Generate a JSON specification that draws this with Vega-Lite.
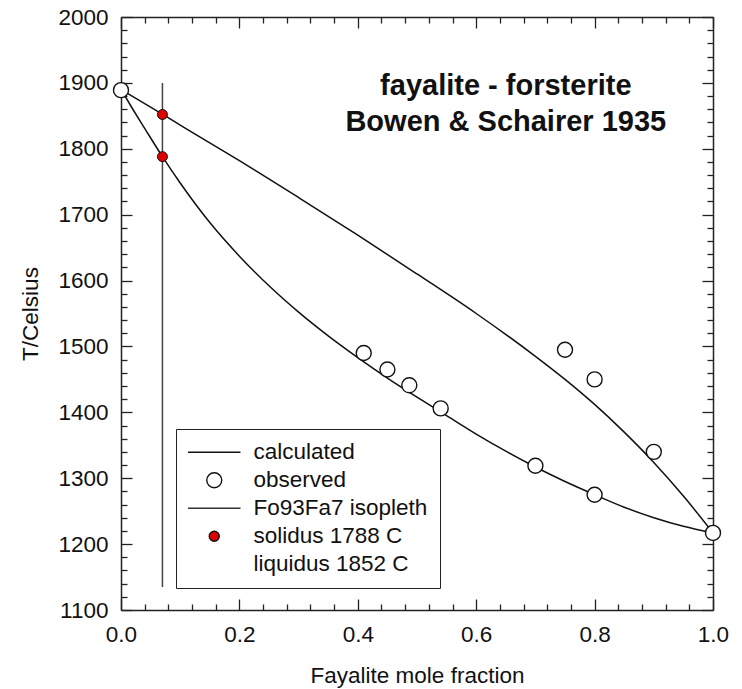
{
  "$schema": "https://vega.github.io/schema/vega-lite/v6.json",
  "width": 592,
  "height": 593,
  "autosize": {"type": "none"},
  "padding": {"left": 121, "top": 17, "right": 29, "bottom": 79},
  "background": "white",
  "config": {
    "view": {"stroke": null},
    "font": "Liberation Sans",
    "axis": {
      "grid": false,
      "domainColor": "#222",
      "domainWidth": 1.5,
      "tickColor": "#222",
      "tickWidth": 1.3,
      "labelFont": "Liberation Sans",
      "labelFontSize": 22.5,
      "labelColor": "#111",
      "titleFont": "Liberation Sans",
      "titleFontSize": 22.5,
      "titleFontWeight": "normal",
      "titleColor": "#111",
      "labelOverlap": false,
      "labelFlush": false,
      "labelBound": false
    }
  },
  "datasets": {
    "curves": [
      {"curve": "liquidus", "x": 0, "T": 1890},
      {"curve": "liquidus", "x": 0.07, "T": 1852.5},
      {"curve": "liquidus", "x": 0.1, "T": 1836},
      {"curve": "liquidus", "x": 0.2, "T": 1782},
      {"curve": "liquidus", "x": 0.3, "T": 1726},
      {"curve": "liquidus", "x": 0.4, "T": 1669},
      {"curve": "liquidus", "x": 0.5, "T": 1610},
      {"curve": "liquidus", "x": 0.6, "T": 1550},
      {"curve": "liquidus", "x": 0.7, "T": 1485},
      {"curve": "liquidus", "x": 0.75, "T": 1450},
      {"curve": "liquidus", "x": 0.8, "T": 1412},
      {"curve": "liquidus", "x": 0.85, "T": 1370},
      {"curve": "liquidus", "x": 0.9, "T": 1324},
      {"curve": "liquidus", "x": 0.95, "T": 1273},
      {"curve": "liquidus", "x": 1.0, "T": 1217},
      {"curve": "solidus", "x": 0, "T": 1890},
      {"curve": "solidus", "x": 0.02, "T": 1860},
      {"curve": "solidus", "x": 0.04, "T": 1831},
      {"curve": "solidus", "x": 0.07, "T": 1788},
      {"curve": "solidus", "x": 0.1, "T": 1748},
      {"curve": "solidus", "x": 0.15, "T": 1688},
      {"curve": "solidus", "x": 0.2, "T": 1637},
      {"curve": "solidus", "x": 0.25, "T": 1592},
      {"curve": "solidus", "x": 0.3, "T": 1552},
      {"curve": "solidus", "x": 0.35, "T": 1516},
      {"curve": "solidus", "x": 0.4, "T": 1483},
      {"curve": "solidus", "x": 0.45, "T": 1452},
      {"curve": "solidus", "x": 0.5, "T": 1423},
      {"curve": "solidus", "x": 0.55, "T": 1395},
      {"curve": "solidus", "x": 0.6, "T": 1367},
      {"curve": "solidus", "x": 0.65, "T": 1341},
      {"curve": "solidus", "x": 0.7, "T": 1317},
      {"curve": "solidus", "x": 0.75, "T": 1295},
      {"curve": "solidus", "x": 0.8, "T": 1275},
      {"curve": "solidus", "x": 0.85, "T": 1256},
      {"curve": "solidus", "x": 0.9, "T": 1240},
      {"curve": "solidus", "x": 0.95, "T": 1227},
      {"curve": "solidus", "x": 1.0, "T": 1217}
    ],
    "observed": [
      {"x": 0, "T": 1889},
      {"x": 0.41, "T": 1490},
      {"x": 0.45, "T": 1465},
      {"x": 0.487, "T": 1441},
      {"x": 0.54, "T": 1406},
      {"x": 0.70, "T": 1319},
      {"x": 0.75, "T": 1495},
      {"x": 0.80, "T": 1450},
      {"x": 0.80, "T": 1275},
      {"x": 0.90, "T": 1340},
      {"x": 1.0, "T": 1217}
    ],
    "isopleth_pts": [
      {"x": 0.07, "T": 1788, "kind": "solidus"},
      {"x": 0.07, "T": 1852, "kind": "liquidus"}
    ],
    "isopleth": [
      {"x": 0.07, "T1": 1135, "T2": 1900}
    ],
    "title": [
      {"t": "fayalite - forsterite\nBowen & Schairer 1935"}
    ],
    "legend": [
      {"label": "calculated"},
      {"label": "observed"},
      {"label": "Fo93Fa7 isopleth"},
      {"label": "solidus 1788 C"},
      {"label": "liquidus 1852 C"}
    ]
  },
  "layer": [
    {
      "data": {"name": "curves"},
      "mark": {"type": "line", "color": "#111", "strokeWidth": 1.5, "interpolate": "monotone"},
      "encoding": {
        "x": {
          "field": "x", "type": "quantitative",
          "scale": {"domain": [0, 1], "nice": false, "zero": false},
          "axis": {
            "orient": "bottom",
            "values": [0, 0.2, 0.4, 0.6, 0.8, 1],
            "format": ".1f",
            "ticks": false,
            "labelPadding": 13,
            "title": "Fayalite mole fraction",
            "titlePadding": 19
          }
        },
        "y": {
          "field": "T", "type": "quantitative",
          "scale": {"domain": [1100, 2000], "nice": false, "zero": false},
          "axis": {
            "orient": "left",
            "values": [1100, 1200, 1300, 1400, 1500, 1600, 1700, 1800, 1900, 2000],
            "format": "d",
            "ticks": false,
            "labelPadding": 13,
            "title": "T/Celsius",
            "titlePadding": 15
          }
        },
        "detail": {"field": "curve"}
      }
    },
    {
      "data": {"name": "isopleth"},
      "mark": {"type": "rule", "color": "#444", "strokeWidth": 1.5},
      "encoding": {
        "x": {
          "field": "x", "type": "quantitative",
          "axis": {
            "orient": "top", "offset": -593,
            "values": [0, 0.04, 0.08, 0.12, 0.16, 0.2, 0.24, 0.28, 0.32, 0.36, 0.4, 0.44, 0.48, 0.52, 0.56, 0.6, 0.64, 0.68, 0.72, 0.76, 0.8, 0.84, 0.88, 0.92, 0.96, 1],
            "labels": false, "domain": false,
            "tickSize": {"condition": {"test": "abs(datum.value*5 - round(datum.value*5)) < 0.001", "value": 11}, "value": 6},
            "title": null
          }
        },
        "y": {
          "field": "T1", "type": "quantitative",
          "axis": {
            "orient": "right", "offset": -592,
            "values": [1100, 1120, 1140, 1160, 1180, 1200, 1220, 1240, 1260, 1280, 1300, 1320, 1340, 1360, 1380, 1400, 1420, 1440, 1460, 1480, 1500, 1520, 1540, 1560, 1580, 1600, 1620, 1640, 1660, 1680, 1700, 1720, 1740, 1760, 1780, 1800, 1820, 1840, 1860, 1880, 1900, 1920, 1940, 1960, 1980, 2000],
            "labels": false, "domain": false,
            "tickSize": {"condition": {"test": "datum.value % 100 == 0", "value": 11}, "value": 6},
            "title": null
          }
        },
        "y2": {"field": "T2"}
      }
    },
    {
      "data": {"name": "observed"},
      "mark": {"type": "point", "shape": "circle", "filled": true, "fill": "white", "stroke": "#111", "strokeWidth": 1.4, "size": 225, "opacity": 1},
      "encoding": {
        "x": {
          "field": "x", "type": "quantitative",
          "axis": {
            "orient": "bottom", "offset": -593,
            "values": [0, 0.04, 0.08, 0.12, 0.16, 0.2, 0.24, 0.28, 0.32, 0.36, 0.4, 0.44, 0.48, 0.52, 0.56, 0.6, 0.64, 0.68, 0.72, 0.76, 0.8, 0.84, 0.88, 0.92, 0.96, 1],
            "labels": false, "domain": true,
            "tickSize": {"condition": {"test": "abs(datum.value*5 - round(datum.value*5)) < 0.001", "value": 11}, "value": 6},
            "title": null
          }
        },
        "y": {
          "field": "T", "type": "quantitative",
          "axis": {
            "orient": "left", "offset": -592,
            "values": [1100, 1120, 1140, 1160, 1180, 1200, 1220, 1240, 1260, 1280, 1300, 1320, 1340, 1360, 1380, 1400, 1420, 1440, 1460, 1480, 1500, 1520, 1540, 1560, 1580, 1600, 1620, 1640, 1660, 1680, 1700, 1720, 1740, 1760, 1780, 1800, 1820, 1840, 1860, 1880, 1900, 1920, 1940, 1960, 1980, 2000],
            "labels": false, "domain": true,
            "tickSize": {"condition": {"test": "datum.value % 100 == 0", "value": 11}, "value": 6},
            "title": null
          }
        }
      }
    },
    {
      "data": {"name": "isopleth_pts"},
      "mark": {"type": "point", "shape": "circle", "filled": true, "fill": "#dd0000", "stroke": "#111", "strokeWidth": 1, "size": 100, "opacity": 1},
      "encoding": {
        "x": {"field": "x", "type": "quantitative", "axis": null},
        "y": {"field": "T", "type": "quantitative", "axis": null}
      }
    },
    {
      "data": {"name": "title"},
      "mark": {"type": "text", "font": "Liberation Sans", "fontSize": 29, "fontWeight": "bold", "color": "#111", "align": "center", "baseline": "alphabetic", "lineBreak": "\n", "lineHeight": 36},
      "encoding": {
        "x": {"datum": 0.65, "type": "quantitative", "axis": null},
        "y": {"datum": 1882, "type": "quantitative", "axis": null},
        "text": {"field": "t"}
      }
    },
    {
      "data": {"name": "legend"},
      "mark": {"type": "point", "filled": true, "opacity": 0},
      "encoding": {
        "shape": {
          "field": "label", "type": "nominal",
          "scale": {
            "domain": ["calculated", "observed", "Fo93Fa7 isopleth", "solidus 1788 C", "liquidus 1852 C"],
            "range": ["M-3.5,0H3.5", "circle", "M-3.5,0H3.5", "M-0.67,0A0.67,0.67,0,1,1,0.67,0A0.67,0.67,0,1,1,-0.67,0Z", "M0,0"]
          },
          "legend": {
            "title": null, "orient": "none", "legendX": 55, "legendY": 412, "direction": "vertical",
            "padding": 12, "strokeColor": "#222", "fillColor": "white",
            "symbolSize": 225, "symbolStrokeColor": "#111", "symbolStrokeWidth": 1.4, "symbolOpacity": 1,
            "labelFont": "Liberation Sans", "labelFontSize": 22.5, "labelColor": "#111", "labelLimit": 400,
            "labelOffset": 28, "symbolOffset": 15, "rowPadding": 5
          }
        },
        "fill": {
          "field": "label", "type": "nominal",
          "scale": {
            "domain": ["calculated", "observed", "Fo93Fa7 isopleth", "solidus 1788 C", "liquidus 1852 C"],
            "range": ["transparent", "white", "transparent", "#dd0000", "transparent"]
          },
          "legend": {
            "title": null, "orient": "none", "legendX": 55, "legendY": 412, "direction": "vertical",
            "padding": 12, "strokeColor": "#222", "fillColor": "white",
            "symbolSize": 225, "symbolStrokeColor": "#111", "symbolStrokeWidth": 1.4, "symbolOpacity": 1,
            "labelFont": "Liberation Sans", "labelFontSize": 22.5, "labelColor": "#111", "labelLimit": 400,
            "labelOffset": 28, "symbolOffset": 15, "rowPadding": 5
          }
        },
        "stroke": {
          "field": "label", "type": "nominal",
          "scale": {
            "domain": ["calculated", "observed", "Fo93Fa7 isopleth", "solidus 1788 C", "liquidus 1852 C"],
            "range": ["#111", "#111", "#333", "#111", "#111"]
          },
          "legend": {
            "title": null, "orient": "none", "legendX": 55, "legendY": 412, "direction": "vertical",
            "padding": 12, "strokeColor": "#222", "fillColor": "white",
            "symbolSize": 225, "symbolStrokeColor": "#111", "symbolStrokeWidth": 1.4, "symbolOpacity": 1,
            "labelFont": "Liberation Sans", "labelFontSize": 22.5, "labelColor": "#111", "labelLimit": 400,
            "labelOffset": 28, "symbolOffset": 15, "rowPadding": 5
          }
        }
      }
    }
  ],
  "resolve": {"axis": {"x": "independent", "y": "independent"}}
}
